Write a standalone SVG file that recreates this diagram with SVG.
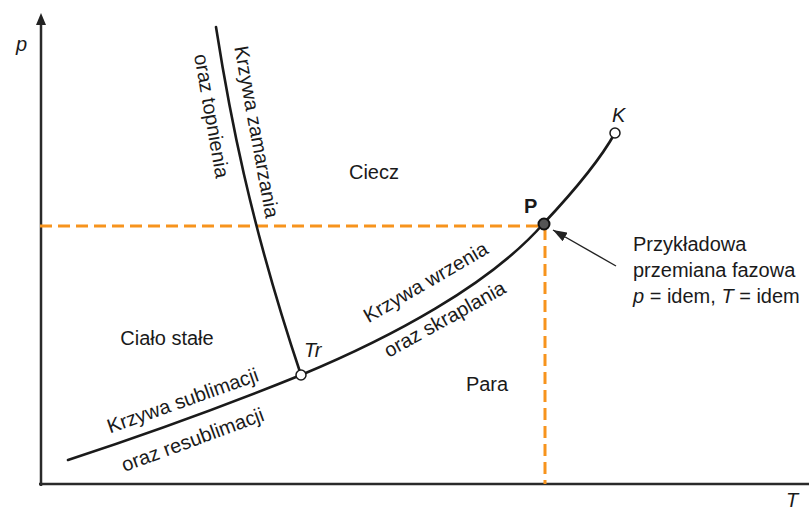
<svg xmlns="http://www.w3.org/2000/svg" width="809" height="512" viewBox="0 0 809 512">
<defs>
<marker id="axisHead" markerWidth="12" markerHeight="10" refX="0" refY="5" orient="auto" markerUnits="userSpaceOnUse" viewBox="0 0 12 10">
<path d="M0,0 L12,5 L0,10 Z" fill="#222"/>
</marker>
<marker id="ptrHead" markerWidth="14" markerHeight="10" refX="14" refY="5" orient="auto" markerUnits="userSpaceOnUse" viewBox="0 0 14 10">
<path d="M0,0 L14,5 L0,10 Z" fill="#222"/>
</marker>
<style>
text{font-family:"Liberation Sans",Arial,sans-serif;font-size:20px;fill:#1a1a1a}
.it{font-style:italic}
.curve{fill:none;stroke:#1a1a1a;stroke-width:2.6;stroke-linecap:round}
.axis{fill:none;stroke:#2a2a2a;stroke-width:2.5}
.dash{fill:none;stroke:#F7941D;stroke-width:3;stroke-dasharray:12 6}
</style>
</defs>
<rect width="809" height="512" fill="#fff"/>
<g id="axes">
<line class="axis" x1="41" y1="486" x2="41" y2="25" marker-end="url(#axisHead)"/>
<line class="axis" x1="39" y1="484" x2="809" y2="484"/>
<text class="it" x="16" y="51">p</text>
<text class="it" x="786" y="507">T</text>
</g>
<g id="guides">
<line class="dash" x1="40" y1="226" x2="540" y2="226"/>
<line class="dash" x1="545" y1="228" x2="545" y2="484"/>
</g>
<g id="connectors">
<path id="fusion" class="curve" d="M216,27 C229,110 249,220 301,375"/>
<path id="sublimation" class="curve" d="M68,460 Q190,420 301,375"/>
<path id="boiling" class="curve" d="M301,375 C390,338 490,285 544,223 C575,190 600,160 615,133"/>
<line x1="616" y1="266" x2="553" y2="230" stroke="#222" stroke-width="1.4" marker-end="url(#ptrHead)"/>
</g>
<g id="node-Tr">
<circle cx="301" cy="375" r="5" fill="#fff" stroke="#1a1a1a" stroke-width="1.5"/>
<text class="it" x="304" y="357">Tr</text>
</g>
<g id="node-K">
<circle cx="615" cy="133" r="5" fill="#fff" stroke="#1a1a1a" stroke-width="1.5"/>
<text class="it" x="612" y="122">K</text>
</g>
<g id="node-P">
<circle cx="544" cy="224" r="5.5" fill="#555" stroke="#111" stroke-width="2"/>
<text x="524" y="213" font-weight="bold">P</text>
</g>
<g id="regions">
<text x="374" y="179" text-anchor="middle">Ciecz</text>
<text x="167" y="345" text-anchor="middle">Ciało stałe</text>
<text x="487" y="391" text-anchor="middle">Para</text>
</g>
<g id="curve-labels">
<text text-anchor="middle" transform="translate(250,133) rotate(79.6)">Krzywa zamarzania</text>
<text text-anchor="middle" transform="translate(205,117) rotate(80)">oraz topnienia</text>
<text text-anchor="middle" transform="translate(429,288) rotate(-30.2)">Krzywa wrzenia</text>
<text text-anchor="middle" transform="translate(448,325) rotate(-29)">oraz skraplania</text>
<text text-anchor="middle" transform="translate(185,407) rotate(-19.5)">Krzywa sublimacji</text>
<text text-anchor="middle" transform="translate(195,446) rotate(-20.2)">oraz resublimacji</text>
</g>
<g id="note">
<text x="633" y="251">Przykładowa</text>
<text x="633" y="277">przemiana fazowa</text>
<text x="633" y="303"><tspan class="it">p</tspan> = idem, <tspan class="it">T</tspan> = idem</text>
</g>
</svg>
